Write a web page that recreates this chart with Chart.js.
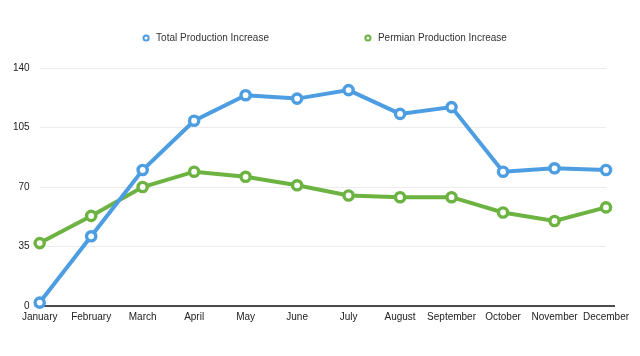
<!DOCTYPE html>
<html>
<head>
<meta charset="utf-8">
<script src="https://cdn.jsdelivr.net/npm/chart.js@4"></script>
<style>
  html, body { margin: 0; padding: 0; background: #fff; }
  #wrap { width: 640px; height: 356px; position: relative; }
</style>
</head>
<body>
<div id="wrap"><canvas id="c"></canvas></div>
<script>
const months = ["January","February","March","April","May","June","July","August","September","October","November","December"];
const totalIncrease = [2, 41, 80, 109, 124, 122, 127, 113, 117, 79, 81, 80];
const permianIncrease = [37, 53, 70, 79, 76, 71, 65, 64, 64, 55, 50, 58];
const yTicks = [0, 35, 70, 105, 140];
const seriesNames = ["Total Production Increase", "Permian Production Increase"];

const BLUE = "#4d9de2";
const GREEN = "#6cb342";
const FONT = "'Liberation Sans', Arial, Helvetica, sans-serif";

// legend drawn above the plot, spaced like the reference
const legendPlugin = {
  id: "wideLegend",
  afterDraw(chart) {
    const ctx = chart.ctx;
    const ds = chart.data.datasets;
    const gap = 96;
    ctx.save();
    ctx.font = "10px " + FONT;
    const widths = ds.map(d => 13 + ctx.measureText(d.label).width);
    const total = widths.reduce((a, b) => a + b, 0) + gap * (ds.length - 1);
    let x = chart.width / 2 - total / 2 + 5;
    const y = 38;
    ds.forEach((d, i) => {
      ctx.beginPath();
      ctx.arc(x + 3, y, 2.6, 0, Math.PI * 2);
      ctx.fillStyle = "#fff";
      ctx.fill();
      ctx.lineWidth = 2;
      ctx.strokeStyle = d.borderColor;
      ctx.stroke();
      ctx.fillStyle = "#333";
      ctx.textBaseline = "middle";
      ctx.textAlign = "left";
      ctx.fillText(d.label, x + 13, y);
      x += widths[i] + gap;
    });
    ctx.restore();
  }
};

// dark baseline slightly wider than the plot
const baselinePlugin = {
  id: "baseline",
  beforeDatasetsDraw(chart) {
    const {ctx, chartArea} = chart;
    const yb = chart.scales.y.getPixelForValue(0);
    ctx.save();
    ctx.beginPath();
    ctx.moveTo(chartArea.left - 5, yb);
    ctx.lineTo(chartArea.right + 9, yb);
    ctx.lineWidth = 1.5;
    ctx.strokeStyle = "#111";
    ctx.stroke();
    ctx.restore();
  }
};

new Chart(document.getElementById("c"), {
  type: "line",
  data: {
    labels: months,
    datasets: [
      {
        label: seriesNames[0],
        data: totalIncrease,
        borderColor: BLUE,
        backgroundColor: "#fff",
        borderWidth: 4,
        pointRadius: 4.6,
        pointBorderWidth: 3.4,
        pointBackgroundColor: "#fff",
        pointBorderColor: BLUE,
        tension: 0,
        clip: false
      },
      {
        label: seriesNames[1],
        data: permianIncrease,
        borderColor: GREEN,
        backgroundColor: "#fff",
        borderWidth: 4,
        pointRadius: 4.6,
        pointBorderWidth: 3.4,
        pointBackgroundColor: "#fff",
        pointBorderColor: GREEN,
        tension: 0,
        clip: false
      }
    ]
  },
  options: {
    responsive: true,
    maintainAspectRatio: false,
    animation: false,
    devicePixelRatio: 1,
    layout: { padding: { top: 68, right: 34, bottom: 28, left: 3 } },
    plugins: {
      legend: { display: false },
      tooltip: { enabled: false }
    },
    scales: {
      x: {
        offset: false,
        grid: { display: false, drawTicks: false },
        border: { display: false },
        ticks: {
          autoSkip: false,
          maxRotation: 0,
          padding: 5,
          color: "#222",
          font: { family: FONT, size: 10 }
        }
      },
      y: {
        min: 0,
        max: 140,
        afterBuildTicks(scale) { scale.ticks = yTicks.map(v => ({ value: v })); },
        grid: { color: "#ececec", lineWidth: 1, drawTicks: false },
        border: { display: false },
        ticks: {
          padding: 10,
          color: "#222",
          font: { family: FONT, size: 10 }
        }
      }
    }
  },
  plugins: [legendPlugin, baselinePlugin]
});
</script>
</body>
</html>
